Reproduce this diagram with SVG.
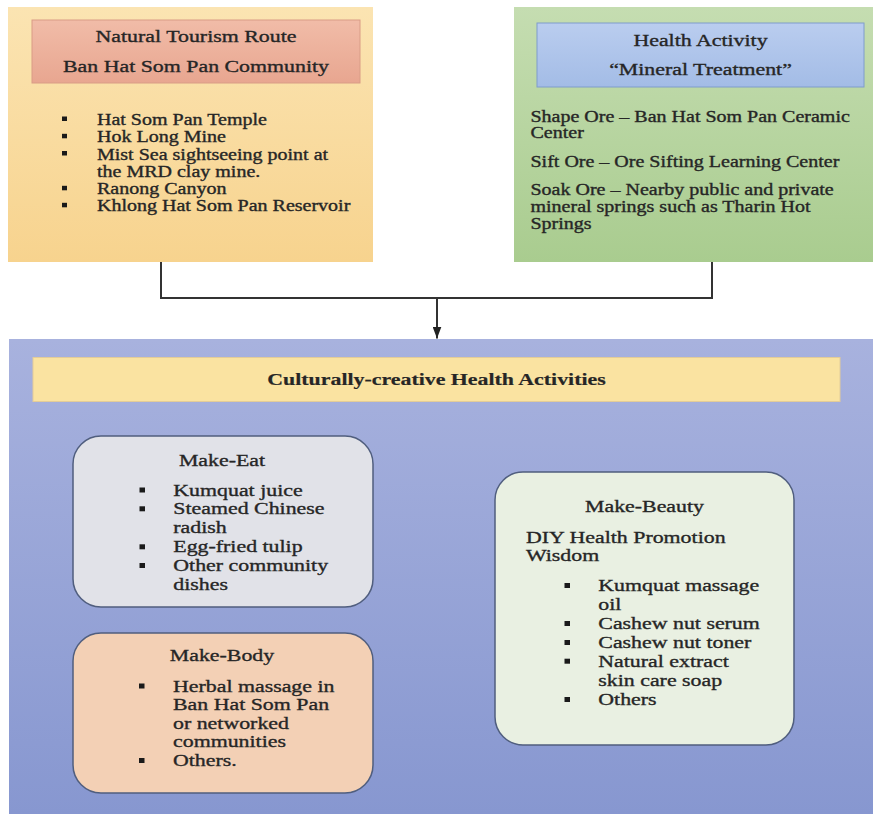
<svg xmlns="http://www.w3.org/2000/svg" width="873" height="814" viewBox="0 0 873 814">
<style>
text{font-family:"Liberation Serif","Times New Roman",serif;fill:#262626;stroke:#262626;stroke-width:0.35px}
.c{text-anchor:middle}
.hd{font-size:17.5px}
.s16{font-size:16px}
.s17{font-size:17.5px}
.b{font-weight:bold;stroke-width:0.2px}
.bul{fill:#1a1a1a}
.conn{fill:none;stroke:#333;stroke-width:2}
.rbox{stroke:#505e7e;stroke-width:1.5}
</style>
<defs>
<linearGradient id="gOrange" x1="0" y1="0" x2="0" y2="1"><stop offset="0" stop-color="#fbe4b2"/><stop offset="1" stop-color="#f7d38e"/></linearGradient>
<linearGradient id="gPink" x1="0" y1="0" x2="0" y2="1"><stop offset="0" stop-color="#f1bca8"/><stop offset="1" stop-color="#e8a690"/></linearGradient>
<linearGradient id="gGreen" x1="0" y1="0" x2="0" y2="1"><stop offset="0" stop-color="#c5ddb1"/><stop offset="1" stop-color="#a9cc8f"/></linearGradient>
<linearGradient id="gLBlue" x1="0" y1="0" x2="0" y2="1"><stop offset="0" stop-color="#bacdef"/><stop offset="1" stop-color="#a3bce6"/></linearGradient>
<linearGradient id="gBlue" x1="0" y1="0" x2="0" y2="1"><stop offset="0" stop-color="#a8b2de"/><stop offset="1" stop-color="#8797d0"/></linearGradient>
<marker id="arr" viewBox="0 0 12 9" refX="12" refY="4.5" markerWidth="12" markerHeight="9" markerUnits="userSpaceOnUse" orient="auto"><path d="M0,0 L12,4.5 L0,9 z" fill="#222"/></marker>
</defs>
<rect width="873" height="814" fill="#ffffff"/>

<g id="natural-tourism">
<rect x="8" y="7" width="365" height="255" fill="url(#gOrange)"/>
<rect x="32" y="20" width="328" height="63" fill="url(#gPink)" stroke="#d99c86" stroke-width="1"/>
<text class="c hd" transform="matrix(1.25 0 0 1 196 41.5)">Natural Tourism Route</text>
<text class="c hd" transform="matrix(1.25 0 0 1 196 71.5)">Ban Hat Som Pan Community</text>
<rect class="bul" x="62" y="116.5" width="5" height="4.5"/>
<rect class="bul" x="62" y="133.8" width="5" height="4.5"/>
<rect class="bul" x="62" y="151" width="5" height="4.5"/>
<rect class="bul" x="62" y="185.8" width="5" height="4.5"/>
<rect class="bul" x="62" y="202.8" width="5" height="4.5"/>
<text class="s16" transform="matrix(1.25 0 0 1 97 125)">Hat Som Pan Temple</text>
<text class="s16" transform="matrix(1.25 0 0 1 97 142.3)">Hok Long Mine</text>
<text class="s16" transform="matrix(1.25 0 0 1 97 159.5)">Mist Sea sightseeing point at</text>
<text class="s16" transform="matrix(1.25 0 0 1 97 176.8)">the MRD clay mine.</text>
<text class="s16" transform="matrix(1.25 0 0 1 97 194.3)">Ranong Canyon</text>
<text class="s16" transform="matrix(1.25 0 0 1 97 211.3)">Khlong Hat Som Pan Reservoir</text>
</g>

<g id="health-activity">
<rect x="514" y="7" width="359" height="255" fill="url(#gGreen)"/>
<rect x="537" y="23" width="327" height="64" fill="url(#gLBlue)" stroke="#7f9ccc" stroke-width="1"/>
<text class="c hd" transform="matrix(1.25 0 0 1 700.5 45.5)">Health Activity</text>
<text class="c hd" transform="matrix(1.25 0 0 1 700.5 75)">“Mineral Treatment”</text>
<text class="s16" transform="matrix(1.25 0 0 1 530.5 121.7)">Shape Ore – Ban Hat Som Pan Ceramic</text>
<text class="s16" transform="matrix(1.25 0 0 1 530.5 138.3)">Center</text>
<text class="s16" transform="matrix(1.25 0 0 1 530.5 166.7)">Sift Ore – Ore Sifting Learning Center</text>
<text class="s16" transform="matrix(1.25 0 0 1 530.5 195)">Soak Ore – Nearby public and private</text>
<text class="s16" transform="matrix(1.25 0 0 1 530.5 212.3)">mineral springs such as Tharin Hot</text>
<text class="s16" transform="matrix(1.25 0 0 1 530.5 229.3)">Springs</text>
</g>

<g id="connectors">
<path class="conn" d="M161,262 V298 H712 V262"/>
<path class="conn" d="M437,298 V338.5" stroke-width="1.6" marker-end="url(#arr)"/>
</g>

<g id="culturally-creative">
<rect x="9" y="339" width="864" height="475" fill="url(#gBlue)"/>
<rect x="33" y="357.5" width="807" height="44" fill="#fae3a1" stroke="#e3cc98" stroke-width="1"/>
<text class="c s17 b" transform="matrix(1.25 0 0 1 436.5 385)">Culturally-creative Health Activities</text>
</g>

<g id="make-eat">
<rect class="rbox" x="73" y="436" width="300" height="171" rx="28" fill="#e1e2e8"/>
<text class="c s17" transform="matrix(1.25 0 0 1 222 465.7)">Make-Eat</text>
<rect class="bul" x="139.5" y="487.5" width="5.5" height="5"/>
<rect class="bul" x="139.5" y="506.3" width="5.5" height="5"/>
<rect class="bul" x="139.5" y="544.3" width="5.5" height="5"/>
<rect class="bul" x="139.5" y="563" width="5.5" height="5"/>
<text class="s17" transform="matrix(1.25 0 0 1 173.3 495.7)">Kumquat juice</text>
<text class="s17" transform="matrix(1.25 0 0 1 173.3 514.3)">Steamed Chinese</text>
<text class="s17" transform="matrix(1.25 0 0 1 173.3 533.3)">radish</text>
<text class="s17" transform="matrix(1.25 0 0 1 173.3 552.3)">Egg-fried tulip</text>
<text class="s17" transform="matrix(1.25 0 0 1 173.3 571)">Other community</text>
<text class="s17" transform="matrix(1.25 0 0 1 173.3 590)">dishes</text>
</g>

<g id="make-body">
<rect class="rbox" x="73" y="633" width="300" height="160" rx="28" fill="#f3d0b5"/>
<text class="c s17" transform="matrix(1.25 0 0 1 222 661.3)">Make-Body</text>
<rect class="bul" x="139" y="683.5" width="5.5" height="5"/>
<rect class="bul" x="139" y="758" width="5.5" height="5"/>
<text class="s17" transform="matrix(1.25 0 0 1 173 691.7)">Herbal massage in</text>
<text class="s17" transform="matrix(1.25 0 0 1 173 710)">Ban Hat Som Pan</text>
<text class="s17" transform="matrix(1.25 0 0 1 173 729)">or networked</text>
<text class="s17" transform="matrix(1.25 0 0 1 173 747.3)">communities</text>
<text class="s17" transform="matrix(1.25 0 0 1 173 766)">Others.</text>
</g>

<g id="make-beauty">
<rect class="rbox" x="495" y="472" width="299" height="273" rx="28" fill="#e9f0e2"/>
<text class="c s17" transform="matrix(1.25 0 0 1 644.5 512.3)">Make-Beauty</text>
<text class="s17" transform="matrix(1.25 0 0 1 526 542.7)">DIY Health Promotion</text>
<text class="s17" transform="matrix(1.25 0 0 1 526 561)">Wisdom</text>
<rect class="bul" x="564.5" y="583" width="5.5" height="5"/>
<rect class="bul" x="564.5" y="621" width="5.5" height="5"/>
<rect class="bul" x="564.5" y="640" width="5.5" height="5"/>
<rect class="bul" x="564.5" y="658.7" width="5.5" height="5"/>
<rect class="bul" x="564.5" y="697" width="5.5" height="5"/>
<text class="s17" transform="matrix(1.25 0 0 1 598.3 591)">Kumquat massage</text>
<text class="s17" transform="matrix(1.25 0 0 1 598.3 610)">oil</text>
<text class="s17" transform="matrix(1.25 0 0 1 598.3 629)">Cashew nut serum</text>
<text class="s17" transform="matrix(1.25 0 0 1 598.3 648)">Cashew nut toner</text>
<text class="s17" transform="matrix(1.25 0 0 1 598.3 666.7)">Natural extract</text>
<text class="s17" transform="matrix(1.25 0 0 1 598.3 686)">skin care soap</text>
<text class="s17" transform="matrix(1.25 0 0 1 598.3 705)">Others</text>
</g>
</svg>
